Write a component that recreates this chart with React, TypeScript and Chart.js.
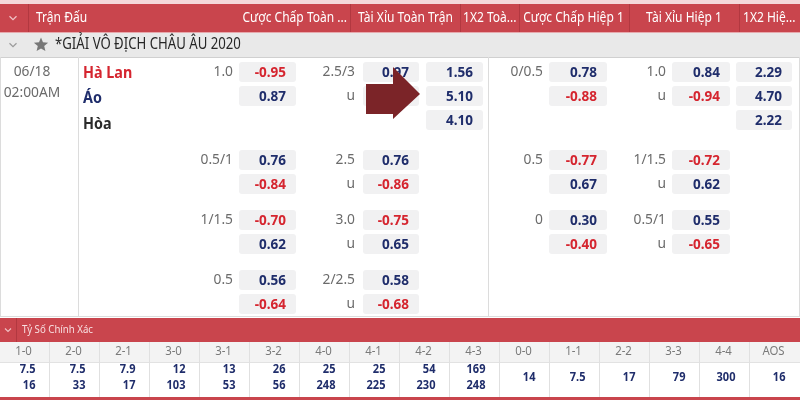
import { useEffect, useRef } from 'react';
import { Chart, registerables } from 'chart.js';

Chart.register(...registerables);

// ---------- DATA ----------
const headerTitles = ['Trận Đấu', 'Cược Chấp Toàn ...', 'Tài Xỉu Toàn Trận', '1X2 Toà...', 'Cược Chấp Hiệp 1', 'Tài Xỉu Hiệp 1', '1X2 Hiệ...'];
const leagueName = '*GIẢI VÔ ĐỊCH CHÂU ÂU 2020';
const matchDate = '06/18';
const matchTime = '02:00AM';
const teams = ['Hà Lan', 'Áo', 'Hòa'];

const ftHandicapLines = ['1.0', '0.5/1', '1/1.5', '0.5'];
const ftHandicapHome = [-0.95, 0.76, -0.7, 0.56];
const ftHandicapAway = [0.87, -0.84, 0.62, -0.64];
const ftTotalLines = ['2.5/3', '2.5', '3.0', '2/2.5'];
const ftTotalOver = [0.97, 0.76, -0.75, 0.58];
const ftTotalUnder = [0.89, -0.86, 0.65, -0.68];
const ft1x2 = [1.56, 5.1, 4.1];

const h1HandicapLines = ['0/0.5', '0.5', '0'];
const h1HandicapHome = [0.78, -0.77, 0.3];
const h1HandicapAway = [-0.88, 0.67, -0.4];
const h1TotalLines = ['1.0', '1/1.5', '0.5/1'];
const h1TotalOver = [0.84, -0.72, 0.55];
const h1TotalUnder = [-0.94, 0.62, -0.65];
const h11x2 = [2.29, 4.7, 2.22];

const correctScoreTitle = 'Tỷ Số Chính Xác';
const scoreLabels = ['1-0', '2-0', '2-1', '3-0', '3-1', '3-2', '4-0', '4-1', '4-2', '4-3', '0-0', '1-1', '2-2', '3-3', '4-4', 'AOS'];
const scoreHomeOdds = ['7.5', '7.5', '7.9', '12', '13', '26', '25', '25', '54', '169', '14', '7.5', '17', '79', '300', '16'];
const scoreAwayOdds = ['16', '33', '17', '103', '53', '56', '248', '225', '230', '248', null, null, null, null, null, null];

// ---------- STYLE ----------
const FONT = '"Noto Sans", "Open Sans", sans-serif';
const RED = '#d5252f';
const NAVY = '#1f2d6b';
const HEADER_RED = '#c9454d';
const HEADER_SEP = '#b23840';
const PALE = '#f4d8da';
const GREY_TXT = '#6b6b6b';
const BOX_BG = '#f1f1f2';
const LINE = '#dcdcdc';

const tablePlugin = {
  id: 'oddsTable',
  afterDraw(chart: any) {
    const ctx = chart.ctx as CanvasRenderingContext2D;
    const xs = chart.scales.x;
    const ys = chart.scales.y;
    const X = (v: number) => xs.getPixelForValue(v);
    const Y = (v: number) => ys.getPixelForValue(v);

    const rect = (x0: number, y0: number, x1: number, y1: number, c: string) => {
      ctx.fillStyle = c;
      ctx.fillRect(X(x0), Y(y0), X(x1) - X(x0), Y(y1) - Y(y0));
    };
    const rrect = (x0: number, y0: number, x1: number, y1: number, r: number, c: string) => {
      ctx.fillStyle = c;
      ctx.beginPath();
      (ctx as any).roundRect(X(x0), Y(y0), X(x1) - X(x0), Y(y1) - Y(y0), r);
      ctx.fill();
    };
    const vline = (x: number, y0: number, y1: number, c: string) => {
      ctx.strokeStyle = c;
      ctx.lineWidth = 1;
      ctx.beginPath();
      ctx.moveTo(Math.round(X(x)) + 0.5, Y(y0));
      ctx.lineTo(Math.round(X(x)) + 0.5, Y(y1));
      ctx.stroke();
    };
    const hline = (x0: number, x1: number, y: number, c: string) => {
      ctx.strokeStyle = c;
      ctx.lineWidth = 1;
      ctx.beginPath();
      ctx.moveTo(X(x0), Math.round(Y(y)) + 0.5);
      ctx.lineTo(X(x1), Math.round(Y(y)) + 0.5);
      ctx.stroke();
    };
    // text with horizontal compression factor sx
    const text = (s: string, x: number, y: number, font: string, c: string, align: CanvasTextAlign = 'left', sx = 0.88) => {
      ctx.save();
      ctx.font = font;
      ctx.fillStyle = c;
      ctx.textAlign = align;
      ctx.textBaseline = 'middle';
      ctx.translate(X(x), Y(y));
      ctx.scale(sx, 1);
      ctx.fillText(s, 0, 0);
      ctx.restore();
    };
    const clipText = (s: string, x0: number, x1: number, x: number, y: number, font: string, c: string, align: CanvasTextAlign, sx: number) => {
      ctx.save();
      ctx.beginPath();
      ctx.rect(X(x0), Y(4), X(x1) - X(x0), Y(32) - Y(4));
      ctx.clip();
      text(s, x, y, font, c, align, sx);
      ctx.restore();
    };
    const chevron = (x: number, y: number, c: string, s = 3.5) => {
      ctx.strokeStyle = c;
      ctx.lineWidth = 1.2;
      ctx.beginPath();
      ctx.moveTo(X(x - s), Y(y - s / 2));
      ctx.lineTo(X(x), Y(y + s / 2));
      ctx.lineTo(X(x + s), Y(y - s / 2));
      ctx.stroke();
    };
    const star = (cx: number, cy: number, R: number, c: string) => {
      ctx.fillStyle = c;
      ctx.beginPath();
      for (let i = 0; i < 10; i++) {
        const r = i % 2 === 0 ? R : R * 0.45;
        const a = -Math.PI / 2 + (i * Math.PI) / 5;
        const px = X(cx + r * Math.cos(a));
        const py = Y(cy + r * Math.sin(a));
        if (i === 0) ctx.moveTo(px, py);
        else ctx.lineTo(px, py);
      }
      ctx.closePath();
      ctx.fill();
    };

    ctx.save();
    rect(0, 0, 800, 400, '#ffffff');

    // ---- top header ----
    rect(0, 0, 800, 4, PALE);
    rect(0, 4, 800, 32, HEADER_RED);
    [28, 350, 460, 519, 629, 739].forEach((x) => vline(x, 4, 32, HEADER_SEP));
    hline(0, 800, 32, '#e7a9ad');
    chevron(13, 18, '#f0c4c7');
    const hf = `14.5px ${FONT}`;
    const hsx = 0.83;
    clipText(headerTitles[0], 28, 350, 36, 18, hf, '#ffffff', 'left', hsx);
    clipText(headerTitles[1], 78, 349, 347, 18, hf, '#ffffff', 'right', hsx);
    clipText(headerTitles[2], 351, 459, 405.5, 18, hf, '#ffffff', 'center', hsx);
    clipText(headerTitles[3], 461, 518, 463, 18, hf, '#ffffff', 'left', hsx);
    clipText(headerTitles[4], 520, 628, 573.5, 18, hf, '#ffffff', 'center', hsx);
    clipText(headerTitles[5], 630, 738, 684, 18, hf, '#ffffff', 'center', hsx);
    clipText(headerTitles[6], 740, 800, 743, 18, hf, '#ffffff', 'left', hsx);

    // ---- league row ----
    rect(0, 33, 800, 57, '#e9e9e9');
    chevron(13, 45, '#9a9a9a');
    star(41, 45, 7.5, '#777777');
    text(leagueName, 55, 45, `15.5px ${FONT}`, '#262626', 'left', 0.85);
    hline(0, 800, 57, '#d0d0d0');

    // ---- body ----
    vline(78, 57, 316, LINE);
    vline(488, 57, 316, LINE);
    vline(0, 57, 316, LINE);
    vline(799, 57, 316, LINE);
    hline(0, 800, 316, LINE);

    text(matchDate, 32, 72, `15px ${FONT}`, GREY_TXT, 'center', 0.92);
    text(matchTime, 32, 93, `15px ${FONT}`, GREY_TXT, 'center', 0.92);
    const teamColors = [RED, NAVY, '#2b2b2b'];
    const teamY = [73, 98, 124];
    teams.forEach((t, i) => text(t, 83, teamY[i], `bold 16.5px ${FONT}`, teamColors[i], 'left', 0.87));

    const oddsFont = `bold 15px ${FONT}`;
    const labelFont = `15px ${FONT}`;
    const box = (xl: number, xr: number, yc: number, v: number) => {
      rrect(xl, yc - 10, xr, yc + 10, 3, BOX_BG);
      text(v.toFixed(2), xr - 10, yc + 0.5, oddsFont, v < 0 ? RED : NAVY, 'right', 0.9);
    };
    const lab = (s: string, x: number, y: number) => text(s, x, y, labelFont, GREY_TXT, 'right', 0.92);
    const groups = [
      [72, 96, 120],
      [160, 184],
      [220, 244],
      [280, 304],
    ];

    ftHandicapLines.forEach((ln, g) => {
      const r = groups[g];
      lab(ln, 233, r[0]);
      box(239, 296, r[0], ftHandicapHome[g]);
      box(239, 296, r[1], ftHandicapAway[g]);
      lab(ftTotalLines[g], 355, r[0]);
      lab('u', 355, r[1]);
      box(363, 419, r[0], ftTotalOver[g]);
      box(363, 419, r[1], ftTotalUnder[g]);
    });
    ft1x2.forEach((v, i) => box(426, 483, groups[0][i], v));

    h1HandicapLines.forEach((ln, g) => {
      const r = groups[g];
      lab(ln, 543, r[0]);
      box(549, 607, r[0], h1HandicapHome[g]);
      box(549, 607, r[1], h1HandicapAway[g]);
      lab(h1TotalLines[g], 666, r[0]);
      lab('u', 666, r[1]);
      box(672, 730, r[0], h1TotalOver[g]);
      box(672, 730, r[1], h1TotalUnder[g]);
    });
    h11x2.forEach((v, i) => box(736, 792, groups[0][i], v));

    // ---- correct score ----
    rect(0, 318, 800, 342, HEADER_RED);
    vline(16, 318, 342, HEADER_SEP);
    chevron(8, 330, '#efc0c3', 3);
    text(correctScoreTitle, 22, 330, `11.5px ${FONT}`, '#f8dfe1', 'left', 0.84);
    rect(0, 342, 800, 362, '#f3f3f3');
    hline(0, 800, 362, '#e2e2e2');
    const colW = 50;
    const col0 = -1.5;
    scoreLabels.forEach((sl, i) => {
      const xl = col0 + i * colW;
      const xr = xl + colW;
      if (i < scoreLabels.length - 1) vline(xr, 342, 397, '#e0e0e0');
      text(sl, (xl + xr) / 2, 352, `12px ${FONT}`, '#7a7a7a', 'center', 0.95);
      const vf = `bold 12px ${FONT}`;
      const away = scoreAwayOdds[i];
      if (away !== null) {
        text(scoreHomeOdds[i], xr - 13, 370, vf, NAVY, 'right', 0.92);
        text(away, xr - 13, 386, vf, NAVY, 'right', 0.92);
      } else {
        text(scoreHomeOdds[i], xr - 13, 378, vf, NAVY, 'right', 0.92);
      }
    });
    rect(0, 397, 800, 400, HEADER_RED);

    // ---- arrow overlay ----
    ctx.fillStyle = '#7b2428';
    ctx.beginPath();
    const pts: [number, number][] = [
      [366, 84], [393, 84], [393, 67], [420, 94], [393, 119], [393, 114], [366, 114],
    ];
    pts.forEach(([px, py], i) => (i === 0 ? ctx.moveTo(X(px), Y(py)) : ctx.lineTo(X(px), Y(py))));
    ctx.closePath();
    ctx.fill();

    ctx.restore();
  },
};

export default function App() {
  const ref = useRef<HTMLCanvasElement | null>(null);
  useEffect(() => {
    if (!ref.current) return;
    const chart = new Chart(ref.current, {
      type: 'scatter',
      data: { datasets: [{ data: [], pointRadius: 0 }] },
      options: {
        animation: false,
        responsive: false,
        maintainAspectRatio: false,
        layout: { padding: 0 },
        events: [],
        scales: {
          x: { type: 'linear', min: 0, max: 800, display: false },
          y: { type: 'linear', min: 0, max: 400, reverse: true, display: false },
        },
        plugins: { legend: { display: false }, tooltip: { enabled: false } },
      },
      plugins: [tablePlugin],
    });
    return () => chart.destroy();
  }, []);
  return (
    <div style={{ position: 'fixed', left: 0, top: 0, width: 800, height: 400, background: '#fff' }}>
      <canvas ref={ref} width={800} height={400} style={{ width: 800, height: 400, display: 'block' }} />
    </div>
  );
}
